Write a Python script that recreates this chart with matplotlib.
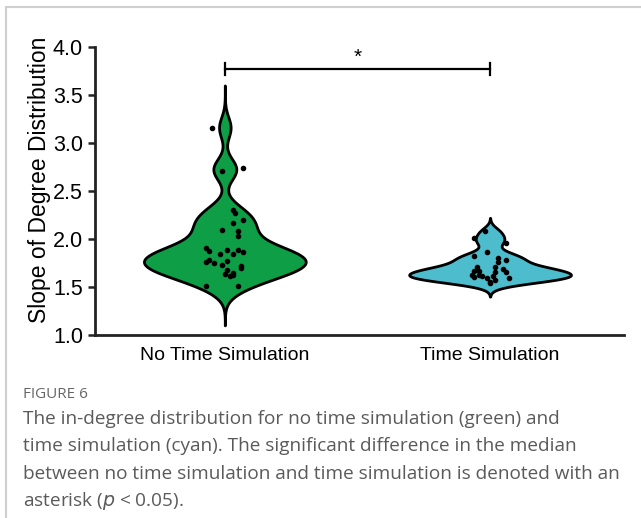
import numpy as np
import matplotlib.pyplot as plt
from matplotlib.lines import Line2D

# slope of in-degree distribution per run
no_time = [3.16, 2.71, 2.74, 2.30, 2.27, 2.17, 2.20, 2.09, 2.08, 2.03,
           1.91, 1.87, 1.89, 1.89, 1.86, 1.84, 1.84, 1.76, 1.78, 1.75,
           1.77, 1.73, 1.72, 1.70, 1.68, 1.64, 1.65, 1.61, 1.63, 1.51, 1.51]
no_time_jit = [-0.05, -0.01, 0.07, 0.03, 0.04, 0.03, 0.07, -0.01, 0.05, 0.05,
               -0.07, -0.06, 0.01, 0.05, 0.07, -0.02, 0.03, -0.07, -0.06, -0.04,
               0.01, -0.01, 0.06, 0.06, 0.01, 0.00, 0.03, 0.02, 0.03, -0.07, 0.05]

with_time = [2.08, 2.01, 1.96, 1.86, 1.82, 1.80, 1.78, 1.76, 1.71, 1.71,
             1.69, 1.67, 1.67, 1.66, 1.66, 1.62, 1.63, 1.61, 1.59, 1.61,
             1.60, 1.555, 1.59, 1.57, 1.54]
with_time_jit = [-0.02, -0.06, 0.06, -0.01, -0.06, 0.03, 0.06, 0.03, -0.05, 0.02,
                 0.05, -0.06, -0.04, 0.02, 0.06, -0.07, -0.04, -0.03, -0.01, 0.01,
                 -0.06, 0.00, 0.07, 0.02, 0.00]

groups = ["No Time Simulation", "Time Simulation"]
colors = ["#0d9e46", "#4dbccc"]
bandwidth = [0.11, 0.05]
ranges = [(1.10, 3.60), (1.40, 2.22)]


def kde(vals, bw, grid):
    vals = np.asarray(vals)
    d = (grid[:, None] - vals[None, :]) / bw
    return np.exp(-0.5 * d ** 2).sum(axis=1)


plt.rcParams["font.family"] = ["Liberation Sans", "DejaVu Sans"]

fig = plt.figure(figsize=(6.41, 5.18), dpi=100)
ax = fig.add_axes([0.148, 0.3533, 0.8255, 0.556])

for i, (vals, jit) in enumerate([(no_time, no_time_jit), (with_time, with_time_jit)]):
    grid = np.linspace(*ranges[i], 400)
    dens = kde(vals, bandwidth[i], grid)
    dens = dens / dens.max() * 0.305
    ax.fill_betweenx(grid, i - dens, i + dens, facecolor=colors[i],
                     edgecolor="black", linewidth=2, zorder=2)
    ax.scatter(i + np.asarray(jit), vals, s=9, color="black", zorder=3)

# significance bracket
yb = 3.77
ax.plot([0, 1], [yb, yb], color="black", lw=1.6, zorder=4)
ax.plot([0, 0], [yb - 0.065, yb + 0.065], color="black", lw=1.6)
ax.plot([1, 1], [yb - 0.065, yb + 0.065], color="black", lw=1.6)
ax.text(0.5, 3.89, "*", ha="center", va="center", fontsize=15)

ax.set_xlim(-0.49, 1.505)
ax.set_ylim(1.0, 4.0)
ax.set_yticks(np.arange(1.0, 4.01, 0.5))
ax.set_yticklabels([f"{v:.1f}" for v in np.arange(1.0, 4.01, 0.5)])
ax.set_xticks([0, 1])
ax.set_xticklabels(groups, fontsize=14)
ax.tick_params(axis="y", labelsize=15.5, length=5, width=1.8, color="#222")
ax.tick_params(axis="x", length=0, pad=9)
ax.set_ylabel("Slope of Degree Distribution", fontsize=16.5, va="center")
ax.yaxis.set_label_coords(-0.104, 0.538)
for s in ["top", "right"]:
    ax.spines[s].set_visible(False)
for s in ["left", "bottom"]:
    ax.spines[s].set_linewidth(2)
    ax.spines[s].set_color("#222")

# caption
fig.text(23 / 641, 1 - 395 / 518, "FIGURE 6", fontsize=11, color="#666666",
         family="Open Sans", va="center")
caption = ["The in-degree distribution for no time simulation (green) and",
           "time simulation (cyan). The significant difference in the median",
           "between no time simulation and time simulation is denoted with an",
           "asterisk ($p$ < 0.05)."]
for k, line in enumerate(caption):
    fig.text(23 / 641, 1 - (419 + 27.3 * k) / 518, line, fontsize=13.7,
             color="#5a5a5a", family="Open Sans", va="center")

# page frame
fig.add_artist(Line2D([6 / 641, 1], [1 - 7 / 518] * 2, color="#cfcfcf", lw=1.5))
fig.add_artist(Line2D([6 / 641] * 2, [0, 1 - 7 / 518], color="#cfcfcf", lw=1.5))

fig.savefig("out.png", dpi=100)
